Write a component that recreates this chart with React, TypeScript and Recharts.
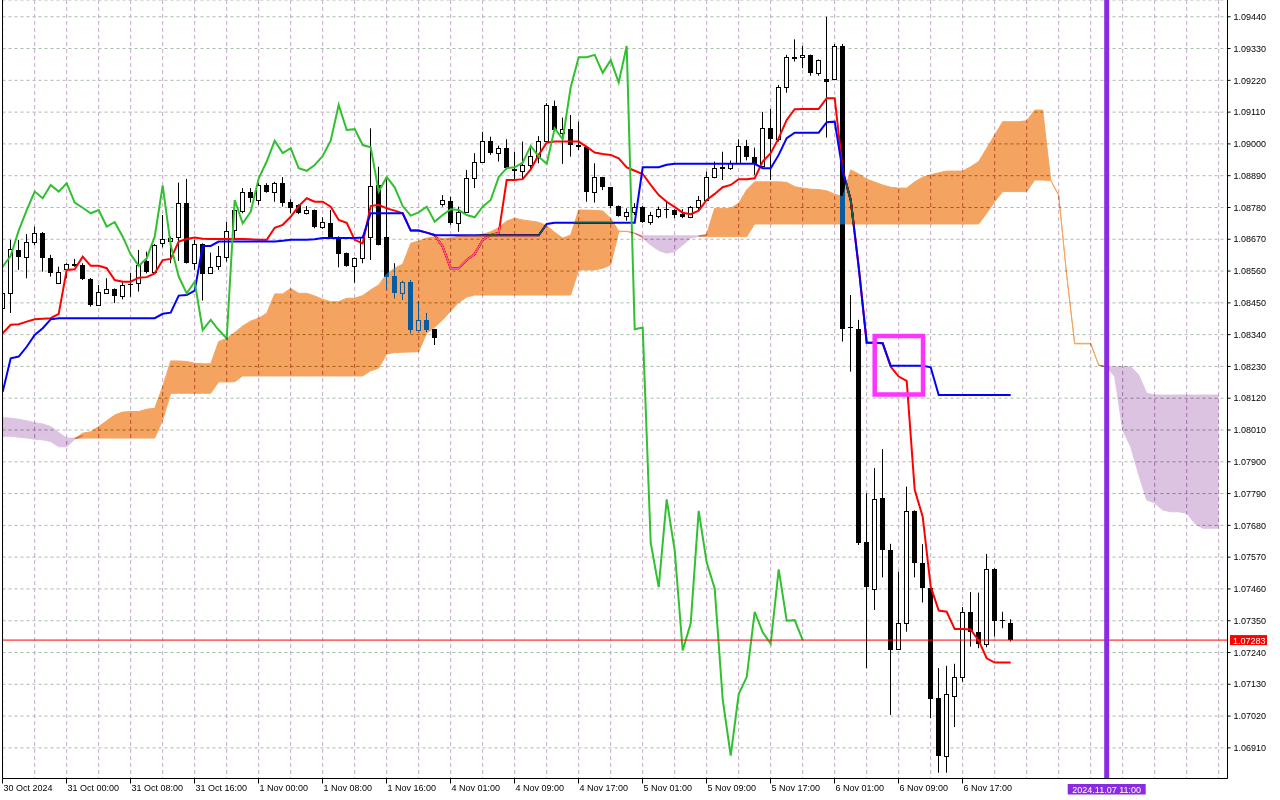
import React from 'react';
import {
  ComposedChart,
  Bar,
  Line,
  Area,
  XAxis,
  YAxis,
  CartesianGrid,
  ReferenceLine,
  ReferenceArea,
} from 'recharts';

const FONT = '"Liberation Sans", Arial, sans-serif';

// H1 candles, bar 0 = 30 Oct 16:00 ... bar 126 = 6 Nov 23:00
const opens = [
  1.08432, 1.08485, 1.08633, 1.08608, 1.08662, 1.08691, 1.08604, 1.0852, 1.08566, 1.08583,
  1.08581, 1.08533, 1.08443, 1.08485, 1.08497, 1.08475, 1.08514, 1.08518, 1.08595, 1.08558,
  1.08656, 1.08664, 1.08679, 1.08797, 1.08589, 1.08653, 1.08552, 1.08578, 1.0861, 1.08702,
  1.08769, 1.08835, 1.08806, 1.08858, 1.08835, 1.08864, 1.08798, 1.08788, 1.0876, 1.08771,
  1.08714, 1.08725, 1.08677, 1.08622, 1.08579, 1.08604, 1.08679, 1.08858, 1.08679, 1.08543,
  1.08483, 1.08523, 1.08356, 1.08391, 1.08359, 1.08792, 1.08802, 1.08725, 1.08765, 1.08881,
  1.08939, 1.09011, 1.0897, 1.08985, 1.08912, 1.08907, 1.08927, 1.08956, 1.0901, 1.09131,
  1.09039, 1.09051, 1.08996, 1.0899, 1.08835, 1.08885, 1.0885, 1.08785, 1.08751, 1.08765,
  1.08783, 1.08731, 1.08751, 1.08775, 1.08771, 1.08758, 1.08748, 1.08783, 1.08806, 1.08885,
  1.08916, 1.08916, 1.08935, 1.08993, 1.08956, 1.08925, 1.09056, 1.09016, 1.09196, 1.09298,
  1.093, 1.09308, 1.09246, 1.09225, 1.09224, 1.09339, 1.08368, 1.08359, 1.07622, 1.07459,
  1.07774, 1.07595, 1.07251, 1.07341, 1.0773, 1.07551, 1.07462, 1.07082, 1.06883, 1.07091,
  1.07155, 1.07379, 1.07312, 1.0727, 1.07528, 1.07353, 1.07341,
];
const highs = [
  1.08529, 1.08668, 1.08668, 1.08688, 1.08714, 1.08695, 1.08616, 1.08575, 1.08587, 1.08602,
  1.08587, 1.08536, 1.08512, 1.08535, 1.085, 1.08526, 1.08554, 1.08633, 1.08627, 1.08654,
  1.08754, 1.08679, 1.08866, 1.08879, 1.08668, 1.08656, 1.08624, 1.08647, 1.08731, 1.088,
  1.08847, 1.08847, 1.08865, 1.08864, 1.08869, 1.08885, 1.08808, 1.08791, 1.08785, 1.08773,
  1.08746, 1.08771, 1.0868, 1.08624, 1.08607, 1.08682, 1.09054, 1.08921, 1.08887, 1.08587,
  1.08526, 1.08529, 1.08454, 1.08414, 1.0836, 1.08823, 1.08817, 1.08783, 1.0891, 1.08968,
  1.09042, 1.09025, 1.08994, 1.09016, 1.08973, 1.09008, 1.0899, 1.09027, 1.09141, 1.0915,
  1.09091, 1.091, 1.09077, 1.08993, 1.08933, 1.08886, 1.08851, 1.08787, 1.08777, 1.08795,
  1.08785, 1.08765, 1.08783, 1.088, 1.08774, 1.08774, 1.08785, 1.0882, 1.08904, 1.08939,
  1.08973, 1.08943, 1.09016, 1.09014, 1.08987, 1.09111, 1.09121, 1.09204, 1.09308, 1.09362,
  1.09339, 1.09309, 1.09292, 1.0944, 1.09346, 1.09346, 1.08477, 1.08391, 1.07791, 1.07878,
  1.07944, 1.07616, 1.0752, 1.07814, 1.07732, 1.07615, 1.07463, 1.07186, 1.07194, 1.07201,
  1.07397, 1.07449, 1.07447, 1.07581, 1.07532, 1.07381, 1.07355,
];
const lows = [
  1.08405, 1.08415, 1.08564, 1.08535, 1.0865, 1.08558, 1.08541, 1.08515, 1.08535, 1.08575,
  1.08529, 1.08437, 1.08439, 1.08482, 1.08449, 1.08462, 1.08471, 1.08489, 1.08552, 1.08552,
  1.08642, 1.08587, 1.08595, 1.08586, 1.08564, 1.08458, 1.0855, 1.08564, 1.08593, 1.08674,
  1.0876, 1.08797, 1.08789, 1.08831, 1.088, 1.08783, 1.0876, 1.08757, 1.08756, 1.08708,
  1.08706, 1.08677, 1.08573, 1.08575, 1.0852, 1.08587, 1.08598, 1.08649, 1.08497, 1.08466,
  1.0846, 1.08345, 1.08355, 1.0835, 1.08304, 1.08783, 1.0872, 1.08696, 1.08764, 1.08847,
  1.08937, 1.08962, 1.08939, 1.0891, 1.08875, 1.08875, 1.0891, 1.08933, 1.09008, 1.09042,
  1.08931, 1.08956, 1.08979, 1.088, 1.08797, 1.0884, 1.08777, 1.08748, 1.08734, 1.08754,
  1.08727, 1.0872, 1.08743, 1.08743, 1.08743, 1.08743, 1.08743, 1.08771, 1.08804, 1.08881,
  1.08875, 1.0891, 1.08933, 1.08943, 1.08893, 1.0892, 1.08875, 1.09008, 1.09177, 1.09285,
  1.09262, 1.09236, 1.09236, 1.09022, 1.09221, 1.08316, 1.08212, 1.07612, 1.07186, 1.07387,
  1.075, 1.07024, 1.07249, 1.07312, 1.075, 1.07413, 1.07013, 1.06824, 1.06824, 1.06982,
  1.07139, 1.0726, 1.07255, 1.07258, 1.07295, 1.07324, 1.07278,
];
const closes = [
  1.08484, 1.08635, 1.0861, 1.08662, 1.08691, 1.08604, 1.08554, 1.08558, 1.08583, 1.08578,
  1.08532, 1.08443, 1.08487, 1.08497, 1.08475, 1.08511, 1.08511, 1.08581, 1.08558, 1.0865,
  1.0867, 1.08676, 1.08797, 1.08589, 1.08653, 1.0855, 1.08575, 1.08613, 1.087, 1.08771,
  1.08835, 1.08812, 1.08858, 1.08835, 1.08864, 1.08797, 1.08779, 1.0876, 1.08771, 1.08714,
  1.08729, 1.08679, 1.08618, 1.08578, 1.08604, 1.08679, 1.08856, 1.0865, 1.08541, 1.08483,
  1.08523, 1.08356, 1.08391, 1.08356, 1.08327, 1.08806, 1.08725, 1.08765, 1.08881, 1.08939,
  1.09011, 1.08968, 1.08985, 1.08916, 1.08907, 1.08927, 1.08958, 1.09011, 1.09135, 1.09048,
  1.09051, 1.08996, 1.08988, 1.08835, 1.08885, 1.0885, 1.08785, 1.08752, 1.08763, 1.08783,
  1.08731, 1.08754, 1.08774, 1.08771, 1.08754, 1.08746, 1.08783, 1.08806, 1.08885, 1.08916,
  1.08919, 1.08935, 1.08993, 1.08956, 1.08931, 1.09054, 1.09016, 1.09196, 1.093, 1.093,
  1.09308, 1.09246, 1.0929, 1.09213, 1.09339, 1.08359, 1.08365, 1.0762, 1.07466, 1.0777,
  1.07593, 1.07247, 1.07341, 1.0773, 1.07551, 1.07462, 1.07078, 1.06883, 1.07096, 1.07155,
  1.07381, 1.0731, 1.0727, 1.07528, 1.0735, 1.07352, 1.07283,
];

// Ichimoku lines as drawn on the chart
const tenkan = [
  1.08345, 1.08374, 1.08376, 1.08385, 1.08393, 1.08395, 1.08397, 1.08412, 1.08564, 1.08566,
  1.0861, 1.08578, 1.08578, 1.0857, 1.08529, 1.08523, 1.08523, 1.08537, 1.08539, 1.08552,
  1.08598, 1.08602, 1.08662, 1.08671, 1.08676, 1.08672, 1.08671, 1.08671, 1.08671, 1.08671,
  1.08671, 1.0867, 1.08668, 1.08668, 1.0871, 1.0872, 1.08748, 1.08785, 1.08812, 1.088,
  1.088, 1.08783, 1.08737, 1.08727, 1.08668, 1.08656, 1.08785, 1.08789, 1.08777, 1.08769,
  1.0876, 1.087, 1.087, 1.08693, 1.08685, 1.08644, 1.0857, 1.0857, 1.08598, 1.08619,
  1.08668, 1.08685, 1.08692, 1.08875, 1.08875, 1.08878, 1.08912, 1.08962, 1.09004, 1.09008,
  1.09008, 1.09008, 1.09008, 1.0899, 1.0897, 1.08965, 1.08962, 1.0895, 1.08919, 1.08907,
  1.08896, 1.08858, 1.08823, 1.088, 1.08781, 1.08762, 1.08757, 1.08769, 1.08806, 1.08827,
  1.0885, 1.08858, 1.08878, 1.08878, 1.08881, 1.08939, 1.08968, 1.0902, 1.09083, 1.0912,
  1.09121, 1.09121, 1.09121, 1.09158, 1.09158, 1.0891, 1.08806, 1.08574, 1.08312, 1.08312,
  1.0831, 1.08229, 1.08195, 1.0818, 1.07803, 1.0771, 1.07468, 1.07385, 1.07381, 1.07321,
  1.07321, 1.0732, 1.07281, 1.0722, 1.07205, 1.07205, 1.07205,
];
const kijun = [
  1.08142, 1.08258, 1.08264, 1.08298, 1.08339, 1.08362, 1.08393, 1.08397, 1.08397, 1.08397,
  1.08397, 1.08397, 1.08397, 1.08397, 1.08397, 1.08397, 1.08397, 1.08397, 1.08397, 1.08397,
  1.08412, 1.08416, 1.08475, 1.08477, 1.08492, 1.08647, 1.08647, 1.08662, 1.08662, 1.08662,
  1.08662, 1.08662, 1.08662, 1.08662, 1.08662, 1.08665, 1.08668, 1.08668, 1.08668, 1.0867,
  1.08674, 1.08674, 1.08674, 1.08674, 1.08674, 1.08676, 1.0876, 1.0876, 1.0876, 1.0876,
  1.0876, 1.087, 1.087, 1.08693, 1.08684, 1.08684, 1.08684, 1.08684, 1.08684, 1.08684,
  1.08684, 1.08684, 1.08684, 1.08684, 1.08684, 1.08684, 1.08684, 1.08684, 1.08723, 1.08727,
  1.08727, 1.08727, 1.08727, 1.08727, 1.08727, 1.08727, 1.08727, 1.08727, 1.08727, 1.08727,
  1.08919, 1.08919, 1.08919, 1.08928, 1.08931, 1.08931, 1.08931, 1.08931, 1.08931, 1.08931,
  1.08931, 1.08931, 1.08931, 1.08931, 1.08931, 1.08916, 1.08916, 1.08962, 1.0902, 1.09039,
  1.09039, 1.09039, 1.09039, 1.09075, 1.09077, 1.08906, 1.08806, 1.08574, 1.08312, 1.08312,
  1.0831, 1.08232, 1.08232, 1.08232, 1.08232, 1.08232, 1.08227, 1.08131, 1.08131, 1.08131,
  1.08131, 1.08131, 1.08131, 1.08131, 1.08131, 1.08131, 1.08131,
];
const chikou = [
  1.08575, 1.08613, 1.087, 1.08771, 1.08835, 1.08812, 1.08858, 1.08835, 1.08864, 1.08797,
  1.08779, 1.0876, 1.08771, 1.08714, 1.08729, 1.08679, 1.08618, 1.08578, 1.08604, 1.08679,
  1.08856, 1.0865, 1.08541, 1.08483, 1.08523, 1.08356, 1.08391, 1.08356, 1.08327, 1.08806,
  1.08725, 1.08765, 1.08881, 1.08939, 1.09011, 1.08968, 1.08985, 1.08916, 1.08907, 1.08927,
  1.08958, 1.09011, 1.09135, 1.09048, 1.09051, 1.08996, 1.08988, 1.08835, 1.08885, 1.0885,
  1.08785, 1.08752, 1.08763, 1.08783, 1.08731, 1.08754, 1.08774, 1.08771, 1.08754, 1.08746,
  1.08783, 1.08806, 1.08885, 1.08916, 1.08919, 1.08935, 1.08993, 1.08956, 1.08931, 1.09054,
  1.09016, 1.09196, 1.093, 1.093, 1.09308, 1.09246, 1.0929, 1.09213, 1.09339, 1.08359,
  1.08365, 1.0762, 1.07466, 1.0777, 1.07593, 1.07247, 1.07341, 1.0773, 1.07551, 1.07462,
  1.07078, 1.06883, 1.07096, 1.07155, 1.07381, 1.0731, 1.0727, 1.07528, 1.0735, 1.07352,
  1.07283,
];
const spanA = [
  1.07988, 1.07988, 1.07985, 1.07982, 1.07978, 1.07976, 1.0797, 1.07952, 1.07952, 1.07978,
  1.07999, 1.08004, 1.08022, 1.08042, 1.08062, 1.08072, 1.08074, 1.08074, 1.08082, 1.08085,
  1.0816, 1.08249, 1.08249, 1.08247, 1.08241, 1.08239, 1.08239, 1.08316, 1.08327, 1.08347,
  1.0837, 1.08387, 1.08397, 1.08414, 1.08481, 1.08481, 1.085, 1.08483, 1.08483, 1.08474,
  1.08462, 1.08454, 1.08454, 1.08466, 1.08466, 1.08475, 1.08495, 1.08512, 1.0855, 1.0857,
  1.08584, 1.08656, 1.08664, 1.08674, 1.08679, 1.08673, 1.08675, 1.0868, 1.08682, 1.08683,
  1.08687, 1.08696, 1.0871, 1.08733, 1.08743, 1.08737, 1.08733, 1.08729, 1.08717, 1.08694,
  1.08674, 1.08685, 1.08771, 1.08771, 1.0877, 1.08768, 1.08743, 1.08698, 1.08698, 1.08692,
  1.08674, 1.0865, 1.08631, 1.08622, 1.08627, 1.0865, 1.08674, 1.0868, 1.08688, 1.08777,
  1.08777, 1.08777, 1.08795, 1.08841, 1.08869, 1.08869, 1.08869, 1.08869, 1.08867, 1.08852,
  1.08847, 1.08843, 1.08842, 1.08838, 1.08826, 1.08817, 1.0891, 1.08896, 1.08878, 1.08868,
  1.08858, 1.0885, 1.08847, 1.08847, 1.08869, 1.08885, 1.08893, 1.089, 1.08906, 1.08906,
  1.08906, 1.08921, 1.08939, 1.08985, 1.09031, 1.09077, 1.09077, 1.09077, 1.0908, 1.09117,
  1.09117, 1.08875, 1.08823, 1.08546, 1.0831, 1.0831, 1.0831, 1.08235, 1.08228, 1.08195,
  1.0801, 1.07952, 1.07855, 1.07768, 1.07757, 1.07733, 1.07727, 1.07727, 1.07722, 1.07687,
  1.0767, 1.0767, 1.0767,
];
const spanB = [
  1.08053, 1.08051, 1.08047, 1.08042, 1.08035, 1.08031, 1.08022, 1.08001, 1.07982, 1.07982,
  1.07982, 1.07982, 1.07982, 1.07982, 1.07982, 1.07982, 1.07982, 1.07982, 1.07982, 1.07982,
  1.08045, 1.08137, 1.08137, 1.08137, 1.08137, 1.08137, 1.08137, 1.08177, 1.08176, 1.08177,
  1.08197, 1.08197, 1.08197, 1.08197, 1.08197, 1.08197, 1.08197, 1.08197, 1.08197, 1.08197,
  1.08197, 1.08197, 1.08197, 1.08197, 1.08197, 1.08197, 1.08215, 1.08224, 1.08273, 1.08278,
  1.08279, 1.0828, 1.08281, 1.08345, 1.08366, 1.08391, 1.08422, 1.08451, 1.0847, 1.08477,
  1.08477, 1.08477, 1.08477, 1.08477, 1.08477, 1.08477, 1.08477, 1.08477, 1.08477, 1.08477,
  1.08477, 1.08477, 1.08564, 1.08564, 1.08564, 1.0857, 1.08581, 1.08696, 1.08697, 1.0869,
  1.08682, 1.08682, 1.08682, 1.08682, 1.08682, 1.08682, 1.08682, 1.08682, 1.08679, 1.08679,
  1.08679, 1.08679, 1.08679, 1.08679, 1.08723, 1.08723, 1.08723, 1.08723, 1.08723, 1.08723,
  1.08723, 1.08723, 1.08723, 1.08723, 1.08723, 1.08723, 1.08723, 1.08723, 1.08723, 1.08723,
  1.08723, 1.08723, 1.08723, 1.08723, 1.08723, 1.08723, 1.08723, 1.08723, 1.08723, 1.08723,
  1.08723, 1.08723, 1.08723, 1.0876, 1.088, 1.08835, 1.08835, 1.08835, 1.08835, 1.08875,
  1.08875, 1.08873, 1.08822, 1.08545, 1.08308, 1.08308, 1.08308, 1.08234, 1.08229, 1.08229,
  1.08229, 1.08229, 1.08201, 1.08137, 1.08131, 1.08131, 1.08131, 1.08131, 1.08131, 1.08131,
  1.08131, 1.08131, 1.08131,
];

// one label every 8 bars
const timeLabels = [
  '30 Oct 2024', '31 Oct 00:00', '31 Oct 08:00', '31 Oct 16:00', '1 Nov 00:00', '1 Nov 08:00',
  '1 Nov 16:00', '4 Nov 01:00', '4 Nov 09:00', '4 Nov 17:00', '5 Nov 01:00', '5 Nov 09:00',
  '5 Nov 17:00', '6 Nov 01:00', '6 Nov 09:00', '6 Nov 17:00',
];
const priceTicks = [
  1.0691, 1.0702, 1.0713, 1.0724, 1.0735, 1.0746, 1.0757, 1.0768, 1.0779, 1.079, 1.0801, 1.0812,
  1.0823, 1.0834, 1.0845, 1.0856, 1.0867, 1.0878, 1.0889, 1.09, 1.0911, 1.0922, 1.0933, 1.0944,
];

const markerLabel = '2024.11.07 11:00';
const markerBar = 138;
const boxBars = [109, 115.04];
const boxPrices = [1.08133, 1.08335];

const X_MIN = -0.025;
const X_MAX = 153.1;
const Y_MIN = 1.06804;
const Y_MAX = 1.09498;

const xTicks = Array.from({ length: 39 }, (_, i) => i * 4);

const isBull = (i: number) => i >= 0 && i < spanA.length && spanA[i] >= spanB[i];
const isBear = (i: number) => i >= 0 && i < spanA.length && spanA[i] < spanB[i];

const rows = spanA.map((a, k) => {
  const b = spanB[k];
  const mid = (a + b) / 2;
  const row: any = { k };
  if (k < closes.length) {
    row.o = opens[k];
    row.h = highs[k];
    row.l = lows[k];
    row.c = closes[k];
    row.range = [lows[k], highs[k]];
    row.tenkan = tenkan[k];
    row.kijun = kijun[k];
  }
  if (k < chikou.length) row.chikou = chikou[k];
  row.bull = isBull(k) ? [b, a] : isBull(k - 1) || isBull(k + 1) ? [mid, mid] : null;
  row.bear = isBear(k) ? [a, b] : isBear(k - 1) || isBear(k + 1) ? [mid, mid] : null;
  return row;
});

const renderCandle = (props: any) => {
  const { x, y, width, height, payload } = props;
  if (!payload || payload.o == null || y == null || height == null) return <g />;
  const { o, h, l, c } = payload;
  const top = Math.min(y, y + height);
  const span = Math.abs(height);
  const toY = (v: number) => top + ((h - v) / (h - l)) * span;
  const cx = Math.floor(x + width / 2) + 0.5;
  const yo = toY(o);
  const yc = toY(c);
  const bodyTop = Math.round(Math.min(yo, yc));
  const bodyBot = Math.max(Math.round(Math.max(yo, yc)), bodyTop + 1);
  const up = c >= o;
  return (
    <g>
      <line x1={cx} x2={cx} y1={top} y2={top + span} stroke="#000" strokeWidth={1} />
      {up ? (
        <rect x={cx - 2} y={bodyTop + 0.5} width={4} height={bodyBot - bodyTop} fill="#fff" stroke="#000" strokeWidth={1} />
      ) : (
        <rect x={cx - 2.5} y={bodyTop} width={5} height={bodyBot - bodyTop} fill="#000" />
      )}
    </g>
  );
};

const renderTimeTick = (props: any) => {
  const { x, y, payload } = props;
  const k = payload.value;
  const label = k % 8 === 0 ? timeLabels[k / 8] : undefined;
  if (!label) return <g />;
  const tx = Math.floor(x) + 0.5;
  return (
    <g>
      <line x1={tx} x2={tx} y1={y} y2={y + 5} stroke="#000" />
      <text x={tx + 1} y={y + 12.5} fontSize={9} fontFamily={FONT} fill="#000">
        {label}
      </text>
    </g>
  );
};

const renderPriceTag = (props: any) => {
  const y = props.viewBox.y;
  return (
    <g>
      <rect x={1230} y={y - 5} width={37} height={10} fill="#ff0000" />
      <text x={1233} y={y + 3.5} fontSize={9} fontFamily={FONT} fill="#fff">
        {closes[closes.length - 1].toFixed(5)}
      </text>
    </g>
  );
};

const renderTimeTag = (props: any) => {
  const x = props.viewBox.x;
  return (
    <g>
      <rect x={x - 39} y={784} width={78} height={10.5} fill="#8a2be2" />
      <text x={x} y={792.5} fontSize={9} fontFamily={FONT} fill="#fff" textAnchor="middle">
        {markerLabel}
      </text>
    </g>
  );
};

export default function App() {
  return (
    <div style={{ position: 'absolute', left: 0, top: 0, width: 1280, height: 800, background: '#fff' }}>
      <style>{'.recharts-area { mix-blend-mode: difference; }'}</style>
      <ComposedChart width={1280} height={800} data={rows} margin={{ top: 0, right: 0, bottom: 0, left: 2.5 }}>
        <CartesianGrid horizontal vertical={false} stroke="#a9bba9" strokeDasharray="3 3" fill="#ffffff" fillOpacity={1} />
        <CartesianGrid horizontal={false} vertical stroke="#c3a9c7" strokeDasharray="4 3" />
        <XAxis
          type="number"
          dataKey="k"
          domain={[X_MIN, X_MAX]}
          allowDataOverflow
          ticks={xTicks}
          interval={0}
          height={21.5}
          axisLine={{ stroke: '#000' }}
          tickLine={false}
          tickSize={0}
          tickMargin={0}
          tick={renderTimeTick}
        />
        <YAxis
          orientation="right"
          type="number"
          domain={[Y_MIN, Y_MAX]}
          allowDataOverflow
          ticks={priceTicks}
          interval={0}
          width={52.5}
          axisLine={{ stroke: '#000' }}
          tickLine={{ stroke: '#000' }}
          tickSize={3}
          tickMargin={3}
          tickFormatter={(v: number) => v.toFixed(5)}
          tick={{ fill: '#000', fontSize: 9, fontFamily: FONT }}
        />
        <Bar dataKey="range" barSize={5} shape={renderCandle} isAnimationActive={false} />
        <Line dataKey="tenkan" type="linear" stroke="#ff0000" strokeWidth={2} dot={false} activeDot={false} isAnimationActive={false} />
        <Line dataKey="kijun" type="linear" stroke="#0000ff" strokeWidth={2} dot={false} activeDot={false} isAnimationActive={false} />
        <Line dataKey="chikou" type="linear" stroke="#30c030" strokeWidth={2} dot={false} activeDot={false} isAnimationActive={false} />
        <Area
          dataKey="bull"
          type="linear"
          fill="#0b5b9f"
          fillOpacity={1}
          stroke="#0b5b9f"
          strokeWidth={1}
          connectNulls={false}
          dot={false}
          activeDot={false}
          isAnimationActive={false}
          zIndex={450}
        />
        <Area
          dataKey="bear"
          type="linear"
          fill="#233c1e"
          fillOpacity={1}
          stroke="#233c1e"
          strokeWidth={1}
          connectNulls={false}
          dot={false}
          activeDot={false}
          isAnimationActive={false}
          zIndex={450}
        />
        <ReferenceLine y={closes[closes.length - 1]} stroke="#ff0000" strokeWidth={1} label={renderPriceTag} zIndex={460} />
        <ReferenceArea
          x1={boxBars[0]}
          x2={boxBars[1]}
          y1={boxPrices[0]}
          y2={boxPrices[1]}
          fill="none"
          fillOpacity={0}
          stroke="#ff33ff"
          strokeWidth={4.5}
          zIndex={470}
        />
        <ReferenceLine x={markerBar} stroke="#8a2be2" strokeWidth={5} label={renderTimeTag} zIndex={480} />
        <ReferenceLine x={X_MIN} stroke="#000" strokeWidth={1} zIndex={490} />
      </ComposedChart>
    </div>
  );
}
